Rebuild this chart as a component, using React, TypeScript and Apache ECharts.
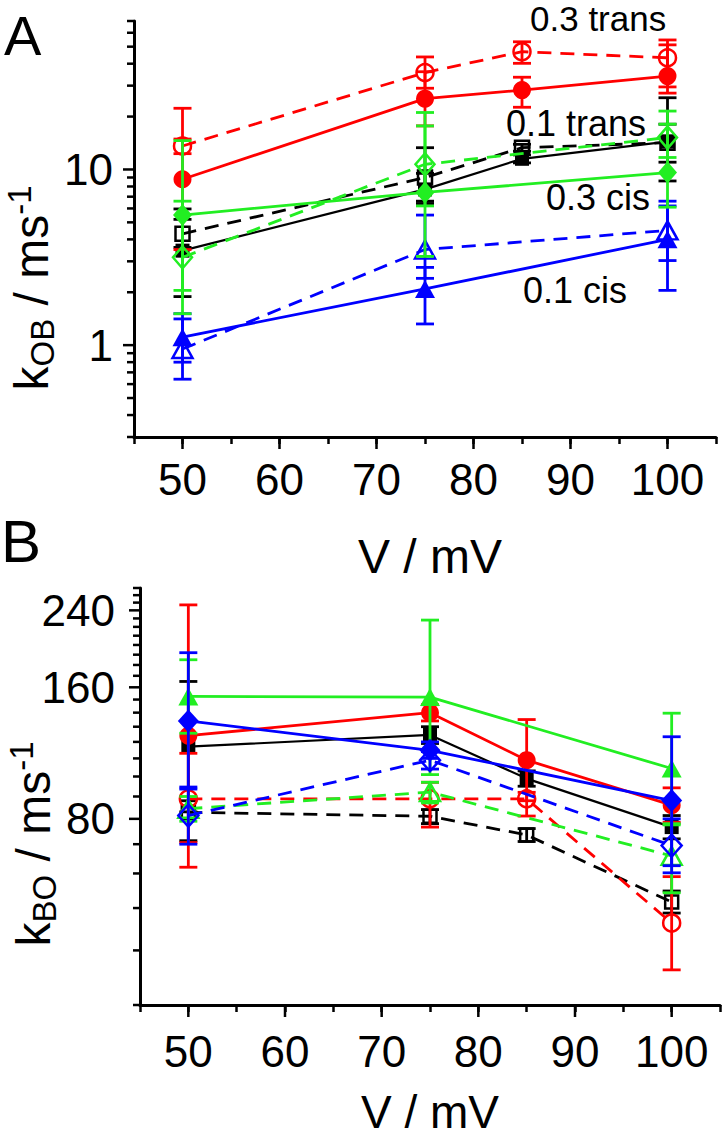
import React, { useEffect, useRef } from 'react';
import * as echarts from 'echarts';

const FONT = "'Liberation Sans', Arial, sans-serif";
const RED = '#ff0000';
const BLACK = '#000000';
const GREEN = '#22ee22';
const BLUE = '#0000ff';

// shared x axis (V / mV)
const xMajor = [50, 60, 70, 80, 90, 100];
const x4 = [50, 75, 85, 100];
const x3 = [50, 75, 100];

// ---------- Panel A : k_OB ----------
const aYMajor = [1, 10];
const aYMinor = [0.3, 0.4, 0.5, 0.6, 0.7, 0.8, 0.9, 2, 3, 4, 5, 6, 7, 8, 9, 20, 30, 40, 50, 60, 70];
const aYLabels = [1, 10];

const aRedFilled = [8.8, 25.3, 28.3, 34.0];
const aRedFilledLo = [3.5, 17.7, 22.6, 27.2];
const aRedFilledHi = [22.3, 36.0, 33.5, 51.2];
const aRedOpen = [13.6, 35.6, 46.8, 43.2];
const aRedOpenLo = [12.3, 29.0, 40.2, 29.5];
const aRedOpenHi = [14.9, 43.7, 53.3, 54.6];
const aBlackFilled = [3.45, 7.7, 11.5, 14.4];
const aBlackFilledLo = [1.89, 6.4, 10.9, 8.6];
const aBlackFilledHi = [5.96, 9.5, 12.1, 25.6];
const aBlackOpen = [4.3, 9.0, 13.3, 14.2];
const aBlackOpenLo = [3.6, 6.6, 12.7, 11.0];
const aBlackOpenHi = [5.2, 13.3, 13.9, 18.1];
const aGreenFilled = [5.5, 7.4, 9.6];
const aGreenFilledLo = [2.05, 3.2, 6.1];
const aGreenFilledHi = [14.6, 17.7, 18.1];
const aGreenOpen = [3.16, 10.7, 15.2];
const aGreenOpenLo = [1.51, 6.2, 11.7];
const aGreenOpenHi = [6.6, 21.1, 21.5];
const aBlueFilled = [1.11, 2.09, 4.0];
const aBlueFilledLo = [0.8, 1.32, 2.05];
const aBlueFilledHi = [1.51, 2.77, 6.6];
const aBlueOpen = [0.95, 3.5, 4.5];
const aBlueOpenLo = [0.64, 2.4, 3.03];
const aBlueOpenHi = [1.41, 5.5, 6.2];

// ---------- Panel B : k_BO ----------
const bYMajor = [80, 160, 240];
const bYMinor = [30, 40, 50, 60, 70, 90, 100, 110, 120, 130, 140, 150, 170, 180, 190, 200, 210, 220, 230, 250, 260, 270];
const bYLabels = [80, 160, 240];

const bRedFilled = [124, 140, 109, 86];
const bRedFilledLo = [62, 134, 88, 78.5];
const bRedFilledHi = [247, 146, 135, 94.2];
const bRedOpen = [88.9, 88.9, 88.9, 46.2];
const bRedOpenLo = [70.6, 76.6, 81.2, 36.1];
const bRedOpenHi = [113, 97, 92, 59];
const bBlackFilled = [117, 124.5, 98.9, 76.6];
const bBlackFilledLo = [83, 119, 95, 72];
const bBlackFilledHi = [165, 130, 103, 81.4];
const bBlackOpen = [82.8, 81.1, 73.5, 51.6];
const bBlackOpenLo = [71.3, 78, 71, 48.7];
const bBlackOpenHi = [88, 84, 76, 54.7];
const bGreenFilled = [152.5, 152, 104.3];
const bGreenFilledLo = [125.6, 101, 78];
const bGreenFilledHi = [185, 228, 139.6];
const bGreenOpen = [84.4, 92.1, 65.8];
const bGreenOpenLo = [79, 87, 54.2];
const bGreenOpenHi = [90, 97, 77.5];
const bBlueFilled = [134, 114.8, 88.1];
const bBlueFilledLo = [93.6, 110, 62.5];
const bBlueFilledHi = [192, 120, 123.3];
const bBlueOpen = [81.4, 109, 69.5];
const bBlueOpenLo = [70, 104, 60.2];
const bBlueOpenHi = [94.6, 114, 80];

const X_MIN = 45;
const X_MAX = 105;

type SeriesDef = {
  xs: number[]; ys: number[]; lo: number[]; hi: number[];
  color: string; symbol: string; size: number | number[]; filled: boolean; dashed: boolean;
};

function buildSeries(axis: number, defs: SeriesDef[], zBase: number) {
  const out: any[] = [];
  defs.forEach((d, i) => {
    const z = zBase + i * 2;
    out.push({
      type: 'custom',
      xAxisIndex: axis,
      yAxisIndex: axis,
      silent: true,
      clip: false,
      z,
      data: d.xs.map((x, k) => [x, d.lo[k], d.hi[k]]),
      encode: { x: 0, y: [1, 2] },
      renderItem: (params: any, api: any) => {
        const x = api.value(0);
        const p1 = api.coord([x, api.value(1)]);
        const p2 = api.coord([x, api.value(2)]);
        const w = 9;
        const st = { stroke: d.color, lineWidth: 2.8 };
        return {
          type: 'group',
          children: [
            { type: 'line', shape: { x1: p1[0], y1: p1[1], x2: p2[0], y2: p2[1] }, style: st },
            { type: 'line', shape: { x1: p1[0] - w, y1: p1[1], x2: p1[0] + w, y2: p1[1] }, style: st },
            { type: 'line', shape: { x1: p2[0] - w, y1: p2[1], x2: p2[0] + w, y2: p2[1] }, style: st },
          ],
        };
      },
    });
    out.push({
      type: 'line',
      xAxisIndex: axis,
      yAxisIndex: axis,
      silent: true,
      z: z + 1,
      data: d.xs.map((x, k) => [x, d.ys[k]]),
      symbol: d.symbol,
      symbolSize: d.size,
      showSymbol: true,
      lineStyle: {
        color: d.color,
        width: d.color === BLACK && !d.dashed ? 2.2 : 2.8,
        type: d.dashed ? [14, 9] : 'solid',
      },
      itemStyle: d.filled
        ? { color: d.color }
        : { color: 'rgba(255,255,255,0)', borderColor: d.color, borderWidth: 2.5 },
      emphasis: { disabled: true },
    });
  });
  return out;
}

function tickSeries(axis: number, major: number[], minor: number[], labels: number[], labelGap: number) {
  const yData = major.map((v) => [X_MIN, v, 11]).concat(minor.map((v) => [X_MIN, v, 7]));
  return [
    {
      type: 'custom',
      xAxisIndex: axis,
      yAxisIndex: axis,
      silent: true,
      clip: false,
      z: 100,
      data: yData,
      renderItem: (params: any, api: any) => {
        const p = api.coord([api.value(0), api.value(1)]);
        const len = api.value(2);
        return {
          type: 'line',
          shape: { x1: p[0] - len, y1: p[1], x2: p[0], y2: p[1] },
          style: { stroke: '#000', lineWidth: 2.5 },
        };
      },
    },
    {
      type: 'custom',
      xAxisIndex: axis,
      yAxisIndex: axis,
      silent: true,
      clip: false,
      z: 100,
      data: labels.map((v) => [X_MIN, v]),
      renderItem: (params: any, api: any) => {
        const v = api.value(1);
        const p = api.coord([api.value(0), v]);
        return {
          type: 'text',
          x: p[0] - labelGap,
          y: p[1],
          style: {
            text: String(v),
            fontSize: 44,
            fontFamily: FONT,
            fill: '#000',
            align: 'right',
            verticalAlign: 'middle',
          },
        };
      },
    },
    {
      type: 'custom',
      xAxisIndex: axis,
      yAxisIndex: axis,
      silent: true,
      clip: false,
      z: 100,
      data: xMajor.map((v) => [v, major[0]]),
      renderItem: (params: any, api: any) => {
        const p = api.coord([api.value(0), api.value(1)]);
        const base = params.coordSys.y + params.coordSys.height;
        return {
          type: 'line',
          shape: { x1: p[0], y1: base, x2: p[0], y2: base + 12 },
          style: { stroke: '#000', lineWidth: 2.5 },
        };
      },
    },
  ];
}

function xAxisCfg(grid: number, margin: number) {
  return {
    type: 'value',
    gridIndex: grid,
    min: X_MIN,
    max: X_MAX,
    interval: 5,
    axisLine: { show: true, onZero: false, lineStyle: { color: '#000', width: 3 } },
    axisTick: { show: true, length: 7, lineStyle: { color: '#000', width: 2.5 } },
    axisLabel: {
      color: '#000',
      fontSize: 44,
      fontFamily: FONT,
      margin,
      formatter: (v: number) => (v % 10 === 0 ? String(v) : ''),
    },
    splitLine: { show: false },
  };
}

function yAxisCfg(grid: number, min: number, max: number) {
  return {
    type: 'log',
    logBase: 10,
    gridIndex: grid,
    min,
    max,
    axisLine: { show: true, lineStyle: { color: '#000', width: 3 } },
    axisTick: { show: false },
    axisLabel: { show: false },
    splitLine: { show: false },
  };
}

const richTitle = (sub: string) => ({
  text: `{m|k}{s|${sub}}{m| / ms}{p|-1}`,
  fill: '#000',
  align: 'center',
  verticalAlign: 'middle',
  rich: {
    m: { fontSize: 48, fontFamily: FONT, lineHeight: 56, verticalAlign: 'middle', fill: '#000' },
    s: { fontSize: 33, fontFamily: FONT, lineHeight: 33, verticalAlign: 'bottom', fill: '#000' },
    p: { fontSize: 33, fontFamily: FONT, lineHeight: 33, verticalAlign: 'top', fill: '#000' },
  },
});

export default function App() {
  const ref = useRef<HTMLDivElement>(null);
  useEffect(() => {
    if (!ref.current) return;
    const chart = echarts.init(ref.current, null, { renderer: 'svg' });

    const aDefs: SeriesDef[] = [
      { xs: x4, ys: aBlackOpen, lo: aBlackOpenLo, hi: aBlackOpenHi, color: BLACK, symbol: 'rect', size: 14, filled: false, dashed: true },
      { xs: x4, ys: aBlackFilled, lo: aBlackFilledLo, hi: aBlackFilledHi, color: BLACK, symbol: 'rect', size: 14, filled: true, dashed: false },
      { xs: x4, ys: aRedOpen, lo: aRedOpenLo, hi: aRedOpenHi, color: RED, symbol: 'circle', size: 17, filled: false, dashed: true },
      { xs: x4, ys: aRedFilled, lo: aRedFilledLo, hi: aRedFilledHi, color: RED, symbol: 'circle', size: 18, filled: true, dashed: false },
      { xs: x3, ys: aBlueOpen, lo: aBlueOpenLo, hi: aBlueOpenHi, color: BLUE, symbol: 'triangle', size: [20, 18], filled: false, dashed: true },
      { xs: x3, ys: aBlueFilled, lo: aBlueFilledLo, hi: aBlueFilledHi, color: BLUE, symbol: 'triangle', size: [20, 18], filled: true, dashed: false },
      { xs: x3, ys: aGreenOpen, lo: aGreenOpenLo, hi: aGreenOpenHi, color: GREEN, symbol: 'diamond', size: [19, 22], filled: false, dashed: true },
      { xs: x3, ys: aGreenFilled, lo: aGreenFilledLo, hi: aGreenFilledHi, color: GREEN, symbol: 'diamond', size: [19, 22], filled: true, dashed: false },
    ];
    const bDefs: SeriesDef[] = [
      { xs: x4, ys: bBlackOpen, lo: bBlackOpenLo, hi: bBlackOpenHi, color: BLACK, symbol: 'rect', size: 13, filled: false, dashed: true },
      { xs: x4, ys: bBlackFilled, lo: bBlackFilledLo, hi: bBlackFilledHi, color: BLACK, symbol: 'rect', size: 14, filled: true, dashed: false },
      { xs: x4, ys: bRedOpen, lo: bRedOpenLo, hi: bRedOpenHi, color: RED, symbol: 'circle', size: 17, filled: false, dashed: true },
      { xs: x4, ys: bRedFilled, lo: bRedFilledLo, hi: bRedFilledHi, color: RED, symbol: 'circle', size: 18, filled: true, dashed: false },
      { xs: x3, ys: bGreenOpen, lo: bGreenOpenLo, hi: bGreenOpenHi, color: GREEN, symbol: 'triangle', size: [20, 18], filled: false, dashed: true },
      { xs: x3, ys: bGreenFilled, lo: bGreenFilledLo, hi: bGreenFilledHi, color: GREEN, symbol: 'triangle', size: [20, 18], filled: true, dashed: false },
      { xs: x3, ys: bBlueOpen, lo: bBlueOpenLo, hi: bBlueOpenHi, color: BLUE, symbol: 'diamond', size: [20, 22], filled: false, dashed: true },
      { xs: x3, ys: bBlueFilled, lo: bBlueFilledLo, hi: bBlueFilledHi, color: BLUE, symbol: 'diamond', size: [21, 23], filled: true, dashed: false },
    ];

    const textStyle = (text: string, size: number, align = 'left') => ({
      text,
      fontSize: size,
      fontFamily: FONT,
      fill: '#000',
      align,
      verticalAlign: 'middle',
    });

    chart.setOption({
      animation: false,
      backgroundColor: '#ffffff',
      grid: [
        { left: 134, top: 21, width: 582, height: 416 },
        { left: 140, top: 588, width: 580, height: 417 },
      ],
      xAxis: [xAxisCfg(0, 20), xAxisCfg(1, 24)],
      yAxis: [yAxisCfg(0, 0.3, 70), yAxisCfg(1, 30, 270)],
      series: [
        ...buildSeries(0, aDefs, 2),
        ...buildSeries(1, bDefs, 2),
        ...tickSeries(0, aYMajor, aYMinor, aYLabels, 21),
        ...tickSeries(1, bYMajor, bYMinor, bYLabels, 25),
      ],
      graphic: [
        { type: 'text', x: 4, y: 35, style: textStyle('A', 56) },
        { type: 'text', x: 1, y: 541, style: textStyle('B', 60) },
        { type: 'text', x: 430, y: 556, style: textStyle('V / mV', 48, 'center') },
        { type: 'text', x: 430, y: 1112, style: textStyle('V / mV', 46, 'center') },
        { type: 'text', x: 530, y: 18, style: textStyle('0.3 trans', 35) },
        { type: 'text', x: 506, y: 123, style: textStyle('0.1 trans', 36) },
        { type: 'text', x: 546, y: 197, style: textStyle('0.3 cis', 36) },
        { type: 'text', x: 523, y: 290, style: textStyle('0.1 cis', 36) },
        { type: 'text', x: 31, y: 288, rotation: Math.PI / 2, style: richTitle('OB') },
        { type: 'text', x: 33, y: 844, rotation: Math.PI / 2, style: richTitle('BO') },
      ],
    });
    return () => chart.dispose();
  }, []);
  return <div ref={ref} style={{ position: 'absolute', left: 0, top: 0, width: 723, height: 1140 }} />;
}
